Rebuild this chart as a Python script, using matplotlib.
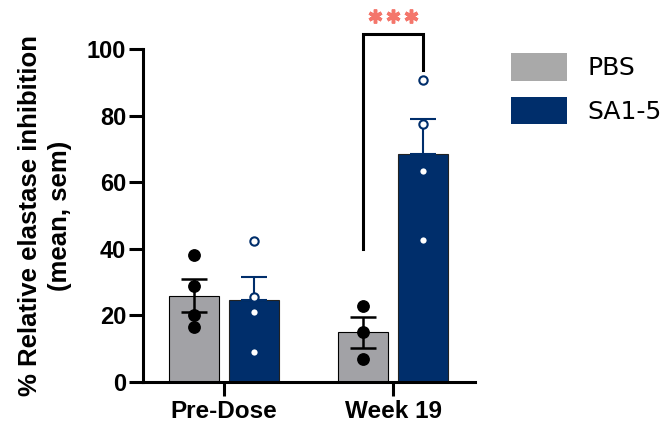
#!/usr/bin/env python3

import matplotlib
matplotlib.use("Agg")
import matplotlib.pyplot as plt
from matplotlib.patches import Patch

# Group means and individual animals per timepoint
TIMEPOINTS = ["Pre-Dose", "Week 19"]
GROUPS = ["PBS", "SA1-5"]

PBS_MEAN = [25.9, 14.9]
PBS_SEM = [4.9, 4.6]
PBS_POINTS = [[38.1, 28.9, 20.1, 16.4], [22.9, 14.9, 6.9]]

SA_MEAN = [24.5, 68.5]
SA_SEM = [6.9, 10.5]
SA_POINTS = [[42.3, 25.6, 21.1, 8.9], [90.7, 77.5, 63.4, 42.6]]

# Significance bracket (Week 19, PBS vs SA1-5)
BRACKET_LEFT_Y = 39.8
BRACKET_TOP_Y = 104.4
BRACKET_RIGHT_Y = 93.7
SIG_LABEL = "***"
SIG_Y = 109.9

PBS_COLOR = "#a2a2a6"
PBS_LEGEND = "#a9a9a9"
SA_COLOR = "#002e6b"
STAR_COLOR = "#f4766b"

plt.rcParams["font.family"] = ["Liberation Sans", "DejaVu Sans"]

fig = plt.figure(figsize=(6.7, 4.25), dpi=100)
ax = fig.add_axes([143 / 670, 43 / 425, 332 / 670, 333 / 425])

x = list(range(len(TIMEPOINTS)))
width = 0.296
off = 0.1775

pbs_x = [i - off for i in x]
sa_x = [i + off for i in x]

ax.bar(pbs_x, PBS_MEAN, width=width, color=PBS_COLOR, edgecolor="black", linewidth=0.8, zorder=2)
ax.bar(sa_x, SA_MEAN, width=width, color=SA_COLOR, edgecolor="#222222", linewidth=0.8, zorder=2)

ax.errorbar(pbs_x, PBS_MEAN, yerr=PBS_SEM, fmt="none", ecolor="black",
            elinewidth=1.8, capsize=9.2, capthick=1.8, zorder=3)
ax.errorbar(sa_x, SA_MEAN, yerr=[[0] * len(SA_SEM), SA_SEM], fmt="none", ecolor=SA_COLOR,
            elinewidth=1.5, capsize=9.2, capthick=1.5, zorder=3)

for xi, pts in zip(pbs_x, PBS_POINTS):
    ax.plot([xi] * len(pts), pts, "o", color="black", markersize=8.2, zorder=4, clip_on=False)
for xi, pts in zip(sa_x, SA_POINTS):
    ax.plot([xi] * len(pts), pts, "o", markerfacecolor="white", markeredgecolor=SA_COLOR,
            markersize=6, markeredgewidth=1.5, zorder=4, clip_on=False)

# bracket between the Week 19 bars
bx0, bx1 = pbs_x[1], sa_x[1]
ax.plot([bx0, bx0, bx1, bx1], [BRACKET_LEFT_Y, BRACKET_TOP_Y, BRACKET_TOP_Y, BRACKET_RIGHT_Y],
        color="black", linewidth=2.2, clip_on=False, solid_joinstyle="miter", zorder=3)
mid = (bx0 + bx1) / 2
step = 0.107
for k in range(len(SIG_LABEL)):
    ax.plot(mid + (k - 1) * step, SIG_Y, marker=(6, 2, 0), markersize=10,
            markeredgewidth=2.5, color=STAR_COLOR, clip_on=False)

ax.set_xlim(-0.479, 1.485)
ax.set_ylim(0, 100)
ax.set_yticks([0, 20, 40, 60, 80, 100])
ax.set_xticks(x)
ax.set_xticklabels(TIMEPOINTS)

for side in ["top", "right"]:
    ax.spines[side].set_visible(False)
for side in ["left", "bottom"]:
    ax.spines[side].set_linewidth(2.2)

ax.tick_params(axis="y", length=10, width=2.2, pad=2, labelsize=17)
ax.tick_params(axis="x", length=10, width=2.2, pad=3, labelsize=17.5)
for lab in ax.get_yticklabels() + ax.get_xticklabels():
    lab.set_fontweight("bold")

ax.set_ylabel("% Relative elastase inhibition\n(mean, sem)", fontsize=18.5, fontweight="bold",
              linespacing=1.32)
ax.yaxis.set_label_coords(-0.214, 0.5)

handles = [Patch(facecolor=PBS_LEGEND, edgecolor="none"), Patch(facecolor=SA_COLOR, edgecolor="none")]
fig.legend(handles, GROUPS, loc="upper left", bbox_to_anchor=(511 / 670, 1 - 53 / 425),
           frameon=False, borderpad=0, prop={"family": "DejaVu Sans", "size": 18},
           handlelength=2.24, handleheight=1.32, handletextpad=0.8, labelspacing=0.64,
           borderaxespad=0)

fig.savefig("out.png", dpi=100)
